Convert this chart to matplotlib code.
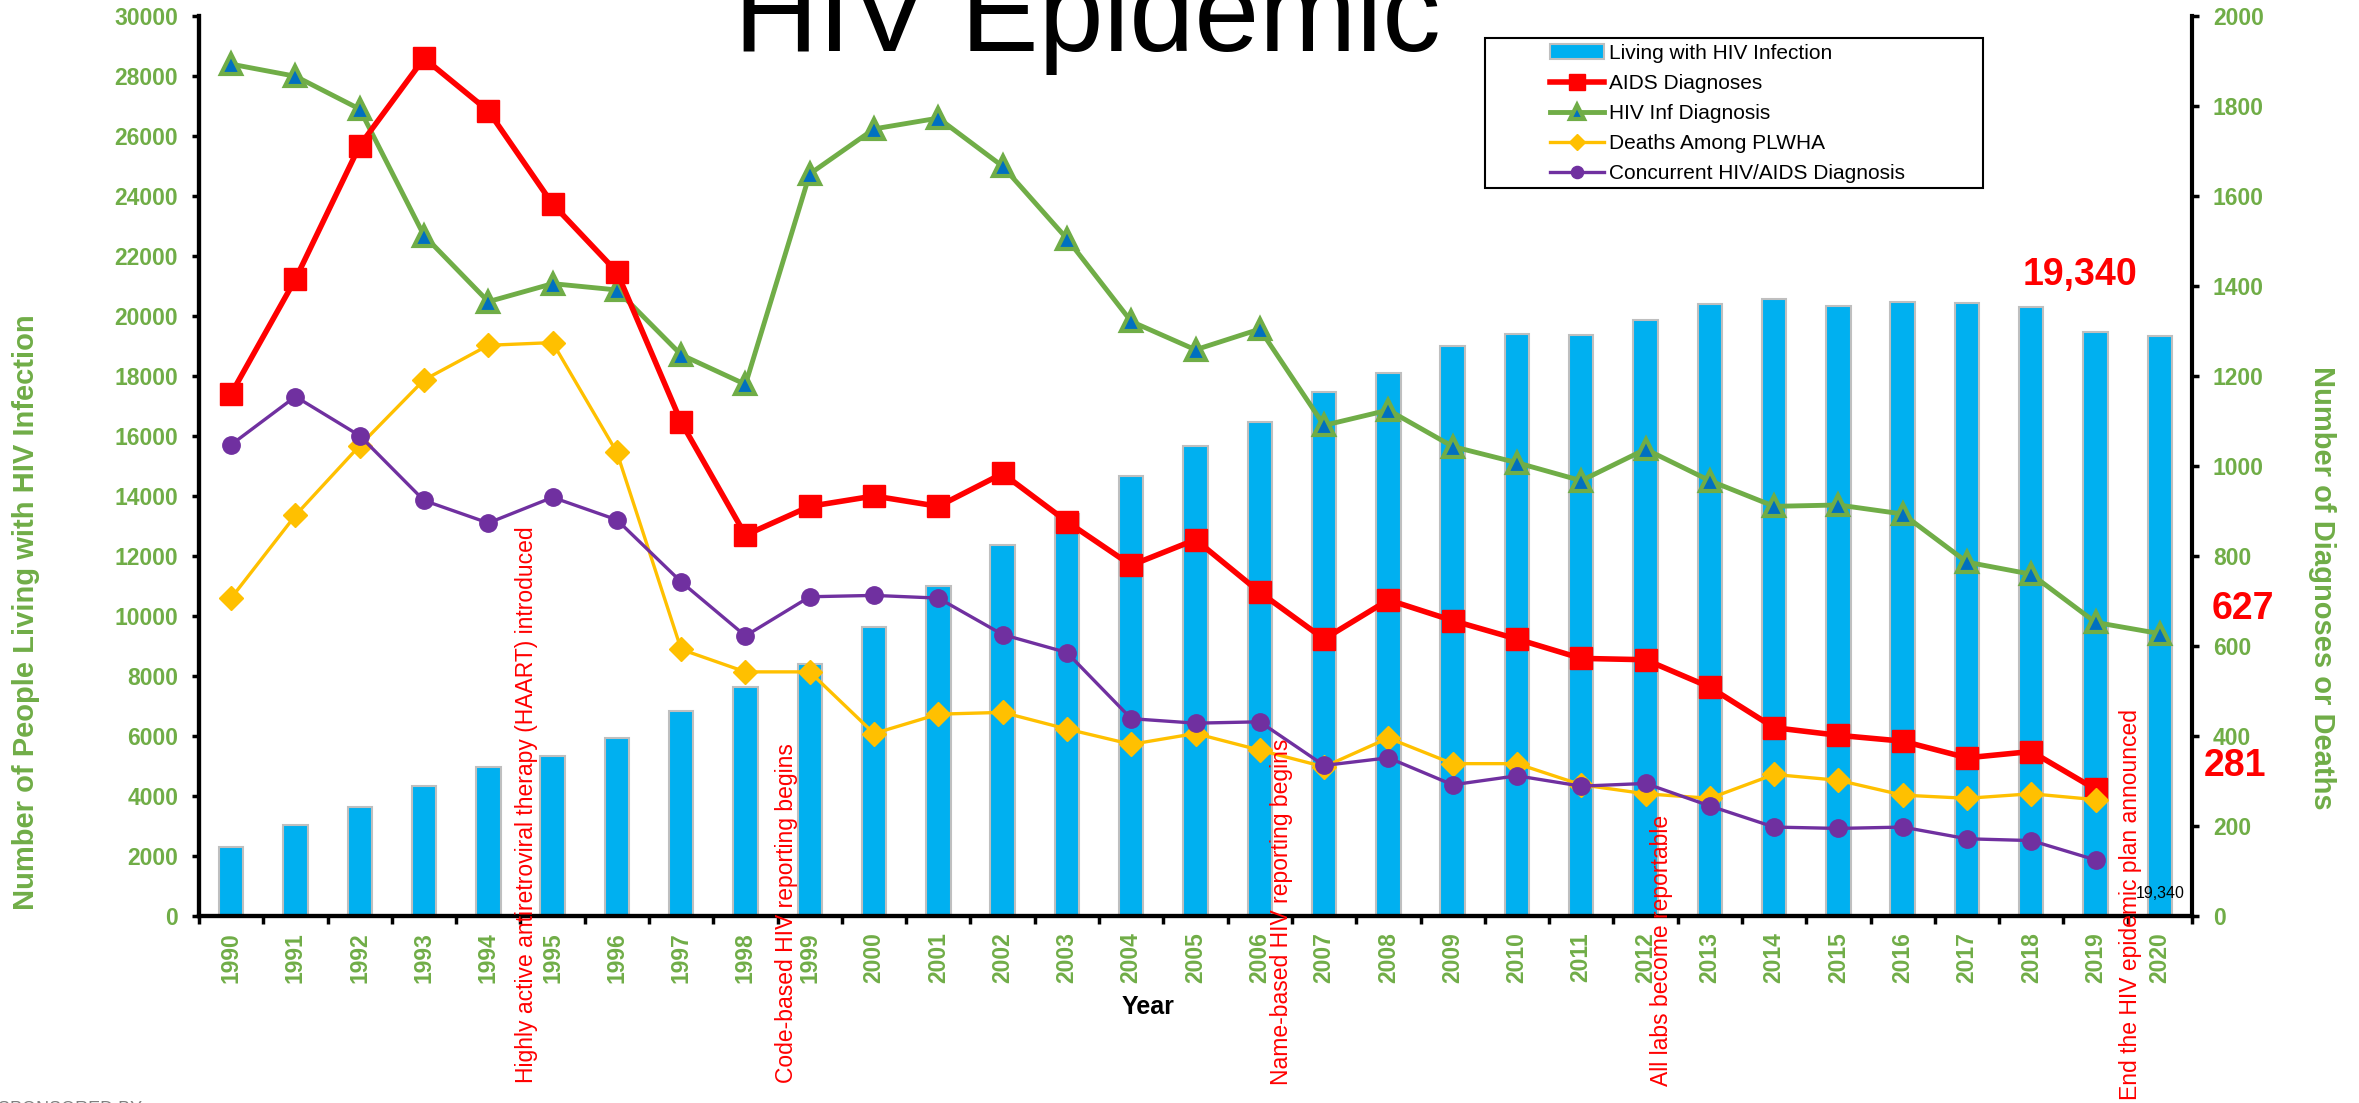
import numpy as np
import matplotlib
matplotlib.use("Agg")
import matplotlib.pyplot as plt
from matplotlib.patches import Rectangle
from matplotlib.ticker import NullFormatter
import matplotlib.transforms as mtransforms

plt.rcParams['font.family'] = ['Liberation Sans', 'DejaVu Sans']

# data
years = list(range(1990, 2021))
living_hiv = [2300, 3030, 3620, 4330, 4950, 5330, 5930, 6840, 7620, 8400,
              9640, 10980, 12350, 13400, 14650, 15650, 16450, 17450, 18080, 19000,
              19380, 19350, 19850, 20400, 20550, 20330, 20450, 20420, 20300, 19450,
              19340]
aids_dx = [1160, 1415, 1712, 1906, 1789, 1582, 1431, 1097, 846, 910,
           933, 910, 983, 876, 779, 836, 719, 615, 702, 656,
           615, 572, 569, 508, 418, 401, 388, 351, 365, 281]
hiv_dx = [1893, 1866, 1793, 1512, 1365, 1405, 1391, 1247, 1181, 1649,
          1749, 1773, 1666, 1505, 1321, 1258, 1304, 1090, 1124, 1043,
          1007, 967, 1037, 967, 910, 913, 893, 786, 759, 652,
          627]
deaths = [706, 890, 1045, 1191, 1268, 1274, 1030, 592, 542, 542,
          405, 448, 452, 415, 381, 405, 368, 331, 395, 338,
          338, 291, 271, 261, 314, 301, 268, 261, 271, 258]
concurrent = [1047, 1154, 1067, 923, 873, 930, 880, 742, 622, 709,
              712, 706, 625, 585, 438, 428, 431, 334, 351, 291,
              311, 288, 294, 244, 197, 194, 197, 171, 167, 124]

events = ["Highly active antiretroviral therapy (HAART) introduced",
          "Code-based HIV reporting begins",
          "Name-based HIV reporting begins",
          "All labs become reportable",
          "End the HIV epidemic plan announced"]
event_pos = [4.59, 8.64, 16.33, 22.25, 29.55]
event_y = [-0.186, -0.186, -0.188, -0.189, -0.205]

GREEN = '#70AD47'
RED = '#FF0000'
W, H = 2359, 1103

fig = plt.figure(figsize=(W / 100, H / 100), dpi=100)
ax = fig.add_axes([199 / W, 1 - 915.7 / H, (2192 - 199) / W, (915.7 - 16) / H])
ax2 = ax.twinx()

x = np.arange(len(years))

bars = ax.bar(x, living_hiv, width=0.38, color='#00B0F0', edgecolor='#BFBFBF',
              linewidth=1.5, zorder=2, label='Living with HIV Infection')

l_aids, = ax2.plot(x[:len(aids_dx)], aids_dx, color=RED, lw=4, marker='s', ms=16,
                   label='AIDS Diagnoses', zorder=4)
l_hiv, = ax2.plot(x[:len(hiv_dx)], hiv_dx, color=GREEN, lw=3.5, marker='^', ms=14,
                  mfc='#0070C0', mec=GREEN, mew=3, label='HIV Inf Diagnosis', zorder=3)
l_death, = ax2.plot(x[:len(deaths)], deaths, color='#FFC000', lw=2.4, marker='D', ms=12,
                    label='Deaths Among PLWHA', zorder=5)
l_conc, = ax2.plot(x[:len(concurrent)], concurrent, color='#7030A0', lw=2.4, marker='o', ms=12.5,
                   label='Concurrent HIV/AIDS Diagnosis', zorder=5)

ax.set_xlim(-0.5, len(years) - 0.5)
ax.set_ylim(0, 30000)
ax2.set_ylim(0, 2000)
ax.set_yticks(np.arange(0, 30001, 2000))
ax2.set_yticks(np.arange(0, 2001, 200))

for a in (ax, ax2):
    a.spines['top'].set_visible(False)
    for s in ('left', 'right', 'bottom'):
        a.spines[s].set_linewidth(3)
ax.spines['right'].set_visible(False)

# ticks between categories, year labels at the centres
ax.set_xticks(np.arange(-0.5, len(years), 1))
ax.xaxis.set_major_formatter(NullFormatter())
ax.set_xticks(x, labels=[str(y) for y in years], minor=True)
ax.tick_params(axis='x', which='major', direction='out', length=6, width=2.5)
ax.tick_params(axis='x', which='minor', length=0, pad=12, labelrotation=90,
               labelsize=16.5, labelcolor=GREEN)
ax.tick_params(axis='y', direction='out', length=5, width=2.5, pad=10,
               labelsize=16.5, labelcolor=GREEN)
ax2.tick_params(axis='y', direction='out', length=5, width=2.5, pad=10,
                labelsize=16.5, labelcolor=GREEN)
for lbl in ax.get_xticklabels(minor=True) + ax.get_yticklabels() + ax2.get_yticklabels():
    lbl.set_fontweight('bold')

# axis titles
fig.text(26 / W, 1 - 612 / H, 'Number of People Living with HIV Infection', rotation=90,
         ha='center', va='center', fontsize=21, fontweight='bold', color=GREEN)
fig.text(2322 / W, 1 - 588 / H, 'Number of Diagnoses or Deaths', rotation=-90,
         ha='center', va='center', fontsize=21, fontweight='bold', color=GREEN)
fig.text(1148 / W, 1 - 1007 / H, 'Year', ha='center', va='center', fontsize=18,
         fontweight='bold', color='black')

# big clipped title
fig.text(1087 / W, 1 - 51 / H, 'HIV Epidemic', ha='center', va='baseline', fontsize=84,
         color='black')

# event annotations
trans = mtransforms.blended_transform_factory(ax2.transData, ax2.transAxes)
for txt, xp, yp in zip(events, event_pos, event_y):
    ax2.text(xp, yp, txt, transform=trans, rotation=90, ha='center', va='bottom',
             fontsize=16.5, color=RED, clip_on=False, zorder=10)

# value call-outs
fig.text(2080 / W, 1 - 275 / H, '19,340', ha='center', va='center', fontsize=27,
         fontweight='bold', color=RED)
fig.text(2243 / W, 1 - 609 / H, '627', ha='center', va='center', fontsize=27,
         fontweight='bold', color=RED)
fig.text(2235 / W, 1 - 766 / H, '281', ha='center', va='center', fontsize=27,
         fontweight='bold', color=RED)
fig.text(2160 / W, 1 - 894 / H, '19,340', ha='center', va='center', fontsize=11.5,
         color='black', zorder=10)

fig.text(-2 / W, 1 - 1101 / H, 'SPONSORED BY', ha='left', va='top',
         fontsize=13, color='#808080')

# legend with its own wide box
fig.patches.append(Rectangle((1485 / W, 1 - 188 / H), (1983 - 1485) / W, (188 - 38) / H,
                             transform=fig.transFigure, facecolor='white',
                             edgecolor='black', lw=1.5, zorder=2))
fig.legend(handles=[bars, l_aids, l_hiv, l_death, l_conc], loc='upper left',
           bbox_to_anchor=(1550 / W, 1 - 44 / H), frameon=False, fontsize=15,
           handlelength=2.6, handletextpad=0.25, labelspacing=0.53,
           borderpad=0, borderaxespad=0, markerscale=0.7)

fig.savefig('out.png', dpi=100)
